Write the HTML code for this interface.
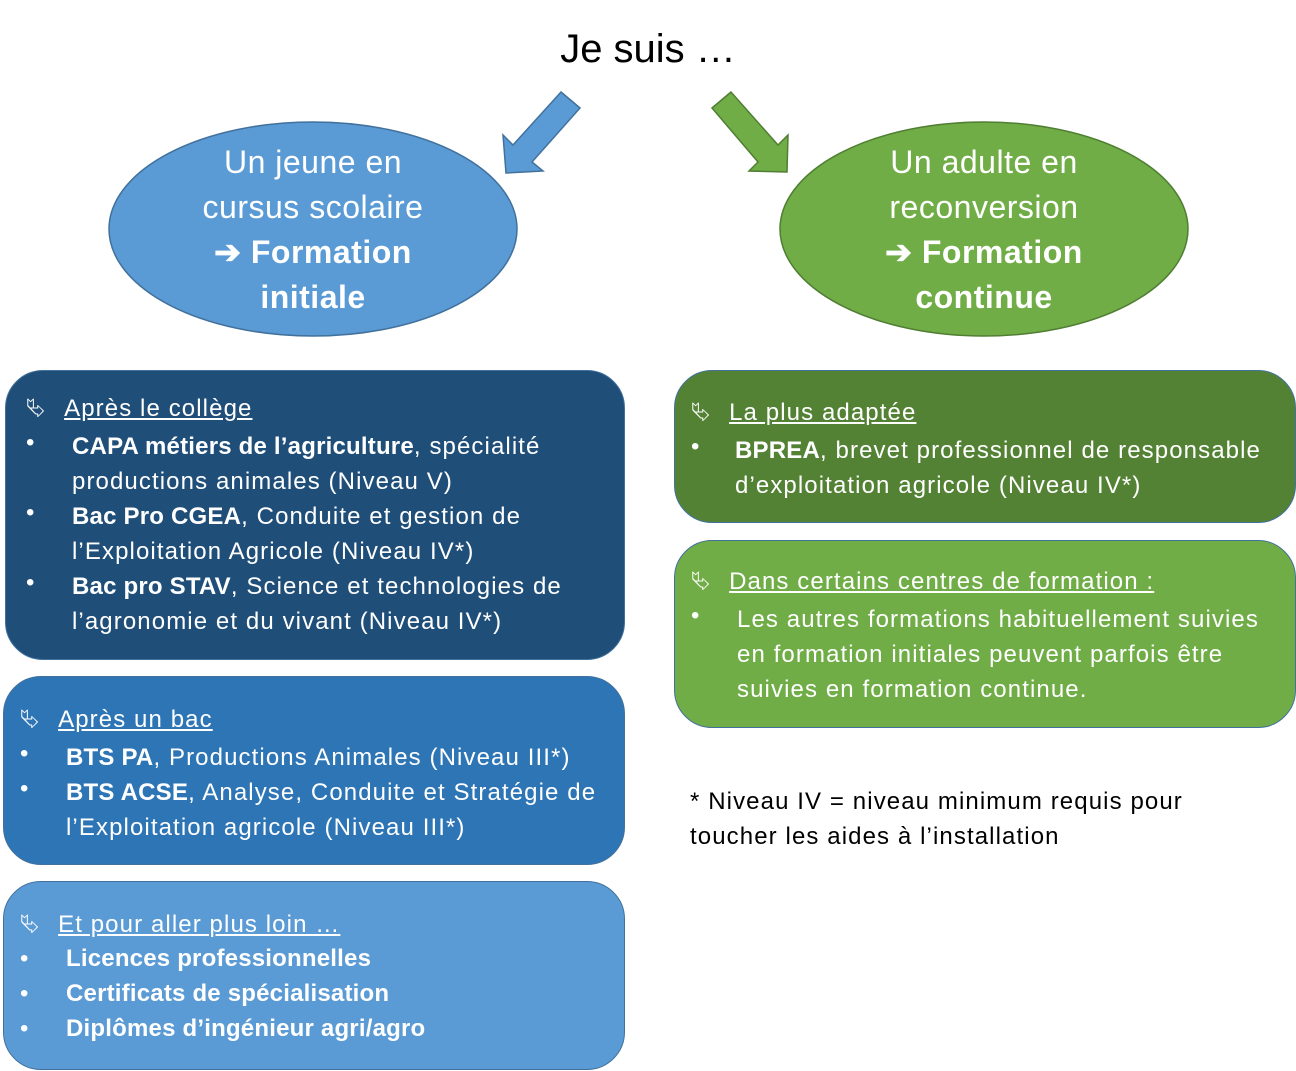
<!DOCTYPE html>
<html><head><meta charset="utf-8"><style>
body{margin:0;width:1296px;height:1071px;background:#fff;position:relative;overflow:hidden;font-family:"Liberation Sans",sans-serif;}
.a{position:absolute;white-space:nowrap}
.box{position:absolute;border-radius:38px;box-sizing:border-box;color:#fff;font-size:24px;letter-spacing:1.1px}
.box b{letter-spacing:0.2px}
.l{position:absolute;white-space:nowrap}
.h{text-decoration:underline}
.ic{font-size:24px}
</style></head><body>
<div class="a" style="left:0;width:1296px;text-align:center;top:27px;font-size:40px;color:#000">Je suis …</div>
<svg width="1296" height="1071" style="position:absolute;left:0;top:0">
<polygon points="561,92 580,108 532,162 543,171 506,173 503,135 513,145" fill="#5b9bd5" stroke="#41719c" stroke-width="1.5"/>
<polygon points="731,92 712,108 758,162 749,171 787,172 788,135 778,145" fill="#70ad47" stroke="#507e32" stroke-width="1.5"/>
<ellipse cx="313" cy="229" rx="204" ry="107" fill="#5b9bd5" stroke="#41719c" stroke-width="1.5"/>
<ellipse cx="984" cy="229" rx="204" ry="107" fill="#70ad47" stroke="#507e32" stroke-width="1.5"/>
</svg>
<div class="a" style="left:113px;width:400px;top:140px;text-align:center;color:#fff;font-size:32px;line-height:45px;letter-spacing:0.5px">Un jeune en<br>cursus scolaire<br><b>➔ Formation<br>initiale</b></div>
<div class="a" style="left:784px;width:400px;top:140px;text-align:center;color:#fff;font-size:32px;line-height:45px;letter-spacing:0.5px">Un adulte en<br>reconversion<br><b>➔ Formation<br>continue</b></div>

<div class="box" style="left:5px;top:370px;width:620px;height:290px;background:#1f4e79;border:1.5px solid #41719c">
<div class="l" style="left:20px;top:24px"><span class="ic">⮱</span> <span class="h" style="margin-left:10px">Après le collège</span></div>
<div class="l" style="left:20px;top:58px">•</div><div class="l" style="left:66px;top:58px;line-height:35px"><b>CAPA métiers de l’agriculture</b>, spécialité<br>productions animales (Niveau V)</div>
<div class="l" style="left:20px;top:128px">•</div><div class="l" style="left:66px;top:128px;line-height:35px"><b>Bac Pro CGEA</b>, Conduite et gestion de<br>l’Exploitation Agricole (Niveau IV*)</div>
<div class="l" style="left:20px;top:198px">•</div><div class="l" style="left:66px;top:198px;line-height:35px"><b>Bac pro STAV</b>, Science et technologies de<br>l’agronomie et du vivant (Niveau IV*)</div>
</div>

<div class="box" style="left:3px;top:676px;width:622px;height:189px;background:#2e75b6;border:1.5px solid #41719c">
<div class="l" style="left:16px;top:29px"><span class="ic">⮱</span> <span class="h" style="margin-left:10px">Après un bac</span></div>
<div class="l" style="left:16px;top:63px">•</div><div class="l" style="left:62px;top:63px;line-height:35px"><b>BTS PA</b>, Productions Animales (Niveau III*)</div>
<div class="l" style="left:16px;top:98px">•</div><div class="l" style="left:62px;top:98px;line-height:35px"><b>BTS ACSE</b>, Analyse, Conduite et Stratégie de<br>l’Exploitation agricole (Niveau III*)</div>
</div>

<div class="box" style="left:3px;top:881px;width:622px;height:189px;background:#5b9bd5;border:1.5px solid #41719c">
<div class="l" style="left:16px;top:29px"><span class="ic">⮱</span> <span class="h" style="margin-left:10px">Et pour aller plus loin …</span></div>
<div class="l" style="left:16px;top:63px">•</div><div class="l" style="left:62px;top:63px"><b>Licences professionnelles</b></div>
<div class="l" style="left:16px;top:98px">•</div><div class="l" style="left:62px;top:98px"><b>Certificats de spécialisation</b></div>
<div class="l" style="left:16px;top:133px">•</div><div class="l" style="left:62px;top:133px"><b>Diplômes d’ingénieur agri/agro</b></div>
</div>

<div class="box" style="left:674px;top:370px;width:622px;height:153px;background:#548235;border:1.5px solid #41719c">
<div class="l" style="left:16px;top:28px"><span class="ic">⮱</span> <span class="h" style="margin-left:10px">La plus adaptée</span></div>
<div class="l" style="left:16px;top:62px">•</div><div class="l" style="left:60px;top:62px;line-height:35px"><b>BPREA</b>, brevet professionnel de responsable<br>d’exploitation agricole (Niveau IV*)</div>
</div>

<div class="box" style="left:674px;top:540px;width:622px;height:188px;background:#70ad47;border:1.5px solid #41719c">
<div class="l" style="left:16px;top:27px"><span class="ic">⮱</span> <span class="h" style="margin-left:10px">Dans certains centres de formation :</span></div>
<div class="l" style="left:16px;top:61px">•</div><div class="l" style="left:62px;top:61px;line-height:35px">Les autres formations habituellement suivies<br>en formation initiales peuvent parfois être<br>suivies en formation continue.</div>
</div>

<div class="a" style="left:690px;top:784px;font-size:24px;letter-spacing:1.1px;line-height:35px;color:#000">* Niveau IV = niveau minimum requis pour<br>toucher les aides à l’installation</div>
</body></html>
